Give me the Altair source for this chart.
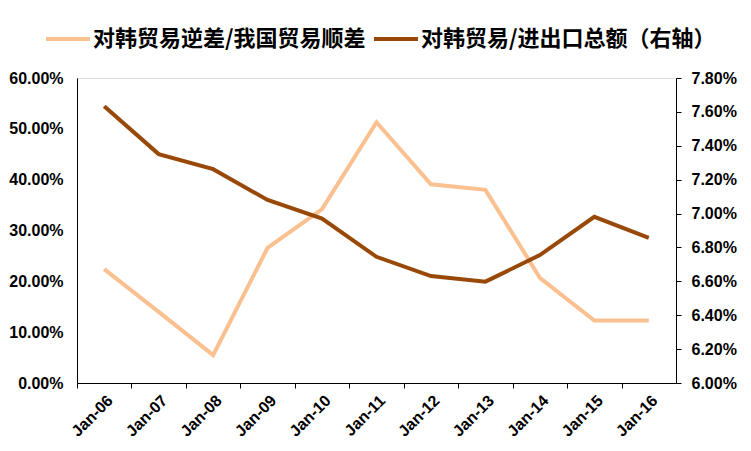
import altair as alt
import pandas as pd

months = ["Jan-06", "Jan-07", "Jan-08", "Jan-09", "Jan-10", "Jan-11",
          "Jan-12", "Jan-13", "Jan-14", "Jan-15", "Jan-16"]
# % values
deficit_share = [22.4, 14.0, 5.5, 26.6, 34.2, 51.3, 39.1, 38.0, 20.7, 12.3, 12.3]
trade_share = [7.634, 7.351, 7.262, 7.080, 6.970, 6.745, 6.631, 6.598, 6.755, 6.981, 6.857]

s1 = "对韩贸易逆差/我国贸易顺差"
s2 = "对韩贸易/进出口总额（右轴）"
series_names = [s1, s2]
series_colors = ["#FAC090", "#984807"]

left_ticks = [0, 0.1, 0.2, 0.3, 0.4, 0.5, 0.6]
right_ticks = [0.060, 0.062, 0.064, 0.066, 0.068, 0.070, 0.072, 0.074, 0.076, 0.078]

rows = []
for m, a, b in zip(months, deficit_share, trade_share):
    rows.append({"month": m, "series": s1, "value": a / 100})
    rows.append({"month": m, "series": s2, "value": b / 100})
df = pd.DataFrame(rows)

AX_FONT = "Liberation Sans"
CJK = "Noto Sans CJK SC"

x_enc = alt.X(
    "month:N", sort=months, title=None,
    scale=alt.Scale(type="point", padding=0.5),
    axis=alt.Axis(
        labelAngle=-45, labelFont=AX_FONT, labelFontSize=16, labelFontWeight="bold",
        labelColor="#000", domainColor="#000", tickColor="#000", tickSize=5,
        tickOffset=-27.2, labelOffset=27.2, labelPadding=4, grid=False,
    ),
)

color_enc = alt.Color(
    "series:N",
    scale=alt.Scale(domain=series_names, range=series_colors),
    legend=alt.Legend(
        title=None, orient="none", direction="horizontal", columns=2,
        legendX=-33, legendY=-63,
        symbolType="stroke", symbolStrokeWidth=4, symbolSize=1936,
        labelFont=CJK, labelFontSize=22, labelFontWeight="bold", labelColor="#000",
        labelOffset=1, columnPadding=0, labelLimit=400, padding=0,
    ),
)

left = alt.Chart(df).transform_filter(alt.datum.series == s1).mark_line(
    strokeWidth=4
).encode(
    x=x_enc,
    y=alt.Y(
        "value:Q", title=None,
        scale=alt.Scale(domain=[0, 0.6], nice=False, zero=False),
        axis=alt.Axis(
            orient="left", values=left_ticks, format=".2%", ticks=False,
            labelFont=AX_FONT, labelFontSize=16, labelFontWeight="bold",
            labelColor="#000", domainColor="#000", labelPadding=14, grid=False,
        ),
    ),
    color=color_enc,
)

right = alt.Chart(df).transform_filter(alt.datum.series == s2).mark_line(
    strokeWidth=4
).encode(
    x=x_enc,
    y=alt.Y(
        "value:Q", title=None,
        scale=alt.Scale(domain=[0.06, 0.078], nice=False, zero=False),
        axis=alt.Axis(
            orient="right", values=right_ticks, format=".2%", ticks=True, tickSize=5,
            tickColor="#000",
            labelFont=AX_FONT, labelFontSize=16, labelFontWeight="bold",
            labelColor="#000", domainColor="#000", labelPadding=10, grid=False,
        ),
    ),
    color=color_enc,
)

chart = alt.layer(left, right).resolve_scale(y="independent").properties(
    width=599, height=305,
    autosize=alt.AutoSizeParams(type="none"),
    padding={"left": 69, "top": 70, "right": 66, "bottom": 58},
).configure_view(stroke=None).configure(background="white")

chart.save("out.html", embed_options={"renderer": "svg", "actions": False})
